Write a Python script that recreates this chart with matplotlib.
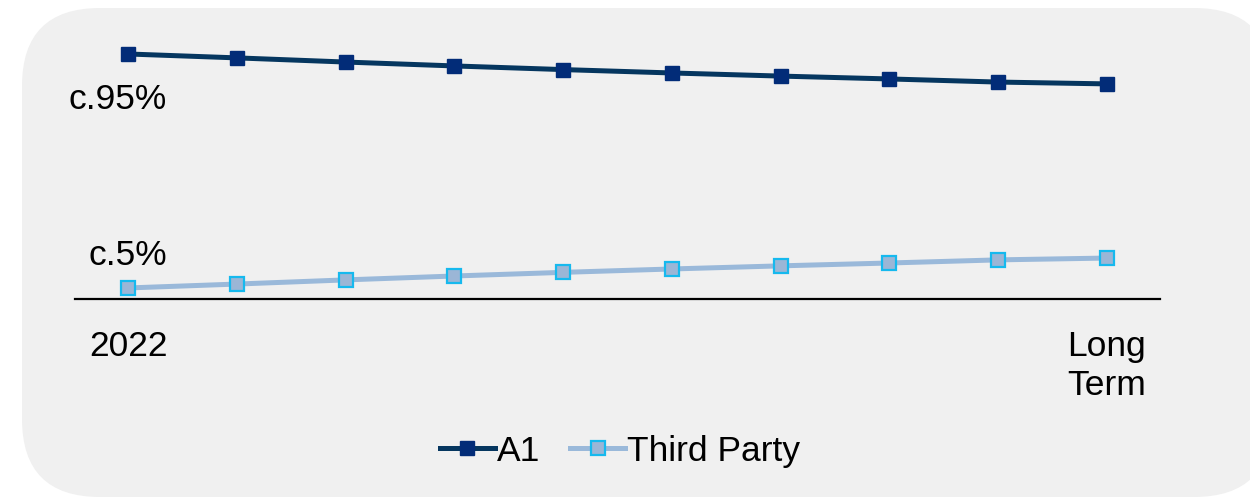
import matplotlib
matplotlib.use("Agg")
import matplotlib.pyplot as plt
from matplotlib.patches import FancyBboxPatch

# share of volumes, 2022 -> long term
years = ["2022", "", "", "", "", "", "", "", "", "Long\nTerm"]
a1 = [95.0, 93.5, 91.9, 90.4, 89.0, 87.7, 86.5, 85.4, 84.2, 83.5]
third_party = [5.0, 6.5, 8.1, 9.6, 11.0, 12.3, 13.5, 14.6, 15.8, 16.5]
labels = ["c.95%", "c.5%"]

plt.rcParams['font.family'] = ['Liberation Sans', 'DejaVu Sans']

fig = plt.figure(figsize=(12.5, 4.98), dpi=100)

# rounded grey panel behind the chart
bg = fig.add_axes([0, 0, 1, 1])
bg.set_xlim(0, 1250)
bg.set_ylim(498, 0)
bg.axis('off')
bg.add_patch(FancyBboxPatch((22, 8), 1250, 489,
                            boxstyle='round,pad=0,rounding_size=78',
                            facecolor='#f0f0f0', edgecolor='none'))

ax = fig.add_axes([0.06, 0.3996, 0.868, 0.522])
ax.patch.set_alpha(0)
x = list(range(len(years)))
ax.plot(x, a1, color='#05365f', lw=3.6, marker='s', ms=10,
        mfc='#022c78', mec='#022c78', label='A1', zorder=3)
ax.plot(x, third_party, color='#9ab9da', lw=3.6, marker='s', ms=9.5,
        mfc='#9bb6d6', mec='#16b9ee', mew=1.6, label='Third Party', zorder=3)

ax.set_xlim(-0.49, 9.49)
ax.set_ylim(0.75, 100.75)
for s in ['top', 'right', 'left']:
    ax.spines[s].set_visible(False)
ax.spines['bottom'].set_linewidth(1.6)
ax.set_yticks([])
ax.set_xticks(x)
ax.set_xticklabels(years, fontsize=25.5, linespacing=1.24)
ax.tick_params(axis='x', length=0, pad=22)

ax.text(-0.1, a1[0] - 17.5, labels[0], fontsize=25.5, ha='center', va='center')
ax.text(0, third_party[0] + 12.5, labels[1], fontsize=25.5, ha='center', va='center')

fig.legend(loc='center', bbox_to_anchor=(0.496, 0.094), ncol=2, frameon=False,
           fontsize=25.5, handlelength=1.55, handletextpad=0.05,
           columnspacing=0.85)

fig.savefig("out.png", dpi=100)
